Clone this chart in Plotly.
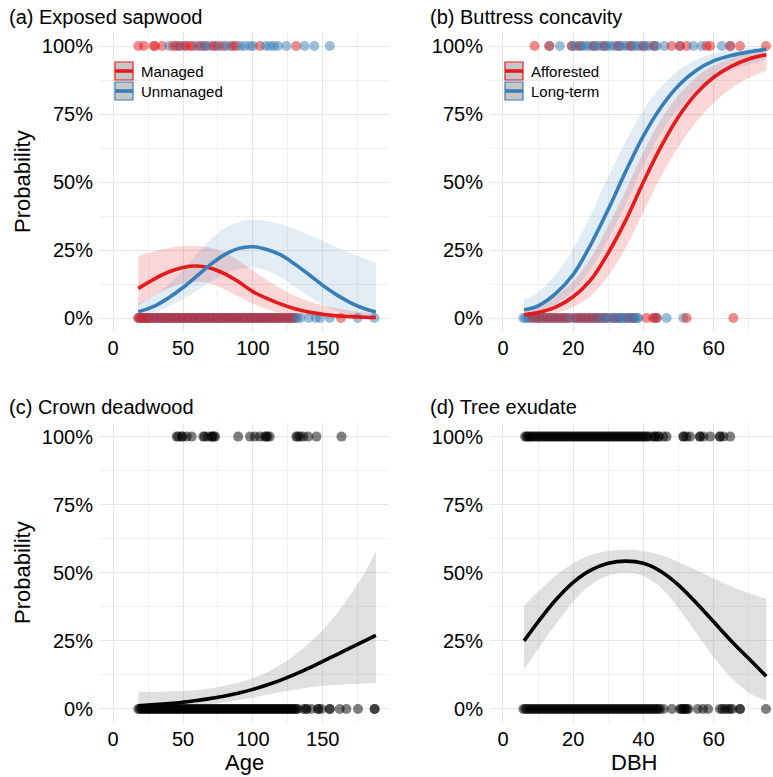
import plotly.graph_objects as go

W, H = 773, 777
RED = "#E41A1C"
BLUE = "#377EB8"
FONT = "Liberation Sans, Arial, sans-serif"

# ---------------- (a) Exposed sapwood vs Age ----------------
a_age = [18, 30, 40, 50, 60, 70, 80, 90, 100, 110, 120, 130, 140, 150, 160, 170, 180, 188]
a_man_fit = [0.109, 0.145, 0.170, 0.186, 0.191, 0.183, 0.162, 0.132, 0.097, 0.072, 0.051, 0.034, 0.022, 0.014, 0.008, 0.005, 0.003, 0.002]
a_man_hi = [0.228, 0.245, 0.257, 0.264, 0.265, 0.258, 0.240, 0.210, 0.175, 0.140, 0.108, 0.082, 0.062, 0.047, 0.035, 0.026, 0.020, 0.016]
a_man_lo = [0.045, 0.085, 0.110, 0.128, 0.133, 0.125, 0.105, 0.078, 0.052, 0.032, 0.018, 0.009, 0.004, 0.002, 0.001, 0.0005, 0.0002, 0.0001]
a_unm_fit = [0.023, 0.045, 0.075, 0.112, 0.155, 0.198, 0.234, 0.256, 0.262, 0.252, 0.232, 0.198, 0.160, 0.120, 0.085, 0.056, 0.034, 0.022]
a_unm_hi = [0.055, 0.085, 0.125, 0.175, 0.235, 0.290, 0.330, 0.353, 0.360, 0.357, 0.345, 0.327, 0.305, 0.283, 0.260, 0.238, 0.218, 0.202]
a_unm_lo = [0.009, 0.022, 0.043, 0.070, 0.100, 0.135, 0.163, 0.180, 0.185, 0.175, 0.150, 0.115, 0.080, 0.050, 0.028, 0.014, 0.007, 0.004]

a_man_yes = [18, 22, 29, 30, 35, 43, 45, 48, 52, 55, 57, 62, 66, 72, 74, 79, 86, 88, 105, 131]
a_unm_yes = [40, 47, 51, 60, 64, 67, 70, 76, 81, 84, 91, 94, 98, 100, 109, 112, 115, 118, 124, 137, 144, 155]
a_man_no = [18, 19, 20, 21, 22, 23, 24, 25, 26, 27, 29, 30, 31, 33, 34, 35, 37, 38, 39, 41, 42, 43,
            45, 46, 47, 49, 50, 51, 53, 54, 55, 57, 58, 59, 61, 62, 63, 65, 66, 67, 69, 70, 71, 73,
            74, 75, 77, 78, 79, 81, 82, 83, 85, 86, 87, 89, 90, 91, 93, 94, 95, 97, 98, 99, 101, 102,
            103, 105, 106, 108, 109, 111, 112, 114, 115, 117, 118, 120, 122, 124, 126, 128, 130, 163]
a_unm_no = [18, 20, 22, 24, 26, 28, 30, 32, 34, 36, 38, 40, 42, 44, 46, 48, 50, 52, 54, 56, 58, 60,
            62, 64, 66, 68, 70, 72, 74, 76, 78, 80, 82, 84, 86, 88, 90, 92, 94, 96, 98, 100, 102, 104,
            106, 108, 110, 112, 114, 116, 118, 120, 122, 124, 126, 128, 130, 132, 134, 140, 145, 148,
            155, 175, 187]

# ---------------- (b) Buttress concavity vs DBH ----------------
b_dbh = [6, 10, 15, 20, 25, 30, 35, 40, 45, 50, 55, 60, 65, 70, 75]
b_aff_fit = [0.012, 0.020, 0.040, 0.078, 0.140, 0.240, 0.360, 0.500, 0.630, 0.740, 0.825, 0.885, 0.925, 0.952, 0.968]
b_aff_hi = [0.032, 0.048, 0.080, 0.135, 0.220, 0.340, 0.470, 0.610, 0.730, 0.820, 0.885, 0.928, 0.955, 0.972, 0.984]
b_aff_lo = [0.004, 0.008, 0.018, 0.040, 0.082, 0.155, 0.260, 0.390, 0.520, 0.630, 0.720, 0.790, 0.845, 0.882, 0.910]
b_lt_fit = [0.030, 0.045, 0.090, 0.160, 0.270, 0.400, 0.540, 0.670, 0.775, 0.855, 0.910, 0.945, 0.965, 0.978, 0.988]
b_lt_hi = [0.068, 0.095, 0.160, 0.255, 0.380, 0.520, 0.650, 0.765, 0.850, 0.910, 0.950, 0.972, 0.985, 0.992, 0.996]
b_lt_lo = [0.012, 0.022, 0.050, 0.100, 0.180, 0.290, 0.420, 0.560, 0.680, 0.770, 0.835, 0.880, 0.910, 0.932, 0.950]

b_aff_yes = [9, 13.2, 19.6, 22, 26, 29, 33, 36.5, 40, 43, 48, 50.4, 52.3, 58, 59, 64.7, 67.5, 74.9]
b_lt_yes = [13.2, 16.2, 19.6, 20.5, 21.5, 22.5, 23.5, 24.5, 25.5, 26.5, 27.5, 28.5, 29.5, 30.5, 31.5,
            32.5, 33.5, 34.5, 35.5, 36.5, 37.5, 38.5, 39.5, 40.5, 41.5, 43, 43.8, 46, 50.4, 54.2, 56.6,
            62.3, 64.7]
b_aff_no = [8.5, 9.3, 10.1, 10.9, 11.7, 12.5, 13.3, 14.1, 14.9, 15.7, 16.5, 17.3, 18.1, 18.9, 20.5,
            21.3, 22.1, 22.9, 23.7, 24.5, 25.3, 26.1, 26.9, 27.7, 29.3, 31.7, 33.3, 35.7, 37.3, 40.9,
            42.8, 43.2, 43.8, 52.3, 65.6]
b_lt_no = [5.8, 6.4, 7.0, 7.6, 8.2, 9.4, 10.6, 11.8, 13.0, 14.2, 15.4, 16.6, 17.8, 19.0, 20.2, 21.4,
           22.6, 23.8, 25.0, 26.2, 27.4, 28.0, 28.6, 29.2, 29.8, 30.4, 31.0, 31.6, 32.2, 32.8, 33.4,
           34.0, 34.6, 35.2, 35.8, 36.4, 37.0, 37.6, 38.2, 38.5, 43.8, 46.6, 51.4]

# ---------------- (c) Crown deadwood vs Age ----------------
c_age = [18, 30, 40, 50, 60, 70, 80, 90, 100, 110, 120, 130, 140, 150, 160, 170, 180, 188]
c_fit = [0.012, 0.016, 0.020, 0.025, 0.031, 0.039, 0.048, 0.059, 0.072, 0.088, 0.106, 0.127, 0.150, 0.175, 0.200, 0.225, 0.250, 0.270]
c_hi = [0.063, 0.063, 0.064, 0.066, 0.070, 0.076, 0.085, 0.097, 0.113, 0.135, 0.163, 0.198, 0.240, 0.290, 0.350, 0.420, 0.500, 0.580]
c_lo = [0.002, 0.004, 0.006, 0.009, 0.013, 0.018, 0.025, 0.033, 0.042, 0.052, 0.062, 0.071, 0.079, 0.085, 0.089, 0.092, 0.094, 0.095]

c_yes = [45.5, 46.5, 49, 49.5, 52.6, 56.2, 64.5, 65.5, 68, 70.5, 71, 72, 73, 89.5, 98, 101.4, 105,
         108.5, 109.5, 110.5, 112, 131, 132, 133.6, 136, 139.5, 145.5, 163.4]
c_no = [18, 19, 20, 21, 22, 23, 24, 25, 26, 27, 28, 29, 30, 31, 32, 33, 34, 35, 36, 37, 38, 39, 40,
        41, 42, 43, 44, 45, 46, 47, 48, 49, 50, 51, 52, 53, 54, 55, 56, 57, 58, 59, 60, 61, 62, 63,
        64, 65, 66, 67, 68, 69, 70, 71, 72, 73, 74, 75, 76, 77, 78, 79, 80, 81, 82, 83, 84, 85, 86,
        87, 88, 89, 90, 91, 92, 93, 94, 95, 96, 97, 98, 99, 100, 101, 102, 103, 104, 105, 106, 107,
        108, 109, 110, 111, 112, 113, 114, 115, 116, 117, 118, 119, 120, 121, 122, 123, 124, 125,
        126, 127, 128, 129, 130, 131, 132, 136, 138.3, 138.3, 141.9, 146.7, 146.7, 149, 155, 155,
        162.1, 166.9, 175.2, 187.1, 187.1]

# ---------------- (d) Tree exudate vs DBH ----------------
d_dbh = [6, 10, 15, 20, 25, 30, 35, 40, 45, 50, 55, 60, 65, 70, 75]
d_fit = [0.250, 0.320, 0.400, 0.465, 0.510, 0.535, 0.543, 0.535, 0.505, 0.455, 0.390, 0.320, 0.250, 0.185, 0.120]
d_hi = [0.380, 0.430, 0.490, 0.535, 0.565, 0.580, 0.585, 0.580, 0.565, 0.540, 0.510, 0.480, 0.450, 0.425, 0.405]
d_lo = [0.145, 0.220, 0.310, 0.395, 0.455, 0.490, 0.500, 0.488, 0.445, 0.370, 0.280, 0.190, 0.115, 0.060, 0.030]

d_yes = [6.3, 6.8, 7, 7.5, 8, 8.5, 9, 9.5, 10, 10.5, 11, 11.5, 12, 12.5, 13, 13.5, 14, 14.5, 15, 15.5,
         16, 16.5, 17, 17.5, 18, 18.5, 19, 19.5, 20, 20.5, 21, 21.5, 22, 22.5, 23, 23.5, 24, 24.5, 25,
         25.5, 26, 26.5, 27, 27.5, 28, 28.5, 29, 29.5, 30, 30.5, 31, 31.5, 32, 32.5, 33, 33.5, 34,
         34.5, 35, 35.5, 36, 36.5, 37, 37.5, 38, 38.5, 39, 39.5, 40, 40.5, 41, 41.4, 42.5, 43.3, 43.3,
         44.3, 44.3, 45.7, 46.6, 51.4, 51.4, 52.3, 53.3, 56.1, 56.1, 57.1, 59, 61.8, 61.8, 62.8, 64.7]
d_no = [5.8, 6.3, 6.8, 7.3, 7.8, 8.3, 8.8, 9.3, 9.8, 10.3, 10.8, 11.3, 11.8, 12.3, 12.8, 13.3, 13.8,
        14.3, 14.8, 15.3, 15.8, 16.3, 16.8, 17.3, 17.8, 18.3, 18.8, 19.3, 19.8, 20.3, 20.8, 21.3,
        21.8, 22.3, 22.8, 23.3, 23.8, 24.3, 24.8, 25.3, 25.8, 26.3, 26.8, 27.3, 27.8, 28.3, 28.8,
        29.3, 29.8, 30.3, 30.8, 31.3, 31.8, 32.3, 32.8, 33.3, 33.8, 34.3, 34.8, 35.3, 35.8, 36.3,
        36.8, 37.3, 37.8, 38.3, 38.8, 39.3, 39.8, 40.3, 40.8, 41.3, 41.8, 42.3, 42.8, 43.3, 43.8,
        44.3, 44.7, 45.7, 48.1, 50.4, 50.8, 51.2, 51.6, 52.0, 52.4, 52.8, 55.5, 57, 58.4, 61.8, 62.5,
        63.2, 64, 64.7, 65.3, 67.5, 67.5, 74.9]

fig = go.Figure()


def ribbon(x, lo, hi, rgba, ax):
    xa, ya = ax
    fig.add_trace(go.Scatter(x=x, y=lo, mode="lines", line=dict(width=0, shape="spline"),
                             hoverinfo="skip", showlegend=False, xaxis=xa, yaxis=ya))
    fig.add_trace(go.Scatter(x=x, y=hi, mode="lines", line=dict(width=0, shape="spline"),
                             fill="tonexty", fillcolor=rgba,
                             hoverinfo="skip", showlegend=False, xaxis=xa, yaxis=ya))


def fitline(x, y, color, ax):
    xa, ya = ax
    fig.add_trace(go.Scatter(x=x, y=y, mode="lines", line=dict(width=3.6, shape="spline", color=color),
                             showlegend=False, xaxis=xa, yaxis=ya))


def dots(groups, val, ax):
    """One row of observations; groups of (x list, colour) are interleaved by x."""
    xa, ya = ax
    pts = sorted((x, col) for xs, col in groups for x in xs)
    fig.add_trace(go.Scatter(x=[p[0] for p in pts], y=[val] * len(pts), mode="markers",
                             marker=dict(size=10, color=[p[1] for p in pts], opacity=0.5, line=dict(width=0)),
                             showlegend=False, xaxis=xa, yaxis=ya))


RED_FILL = "rgba(228,26,28,0.18)"
BLUE_FILL = "rgba(55,126,184,0.15)"
GREY_FILL = "rgba(153,153,153,0.3)"

# (a)
A = ("x", "y")
ribbon(a_age, a_man_lo, a_man_hi, RED_FILL, A)
ribbon(a_age, a_unm_lo, a_unm_hi, BLUE_FILL, A)
dots([(a_man_yes, RED), (a_unm_yes, BLUE)], 1, A)
dots([(a_man_no, RED), (a_unm_no, BLUE)], 0, A)
fitline(a_age, a_man_fit, RED, A)
fitline(a_age, a_unm_fit, BLUE, A)

# (b)
B = ("x2", "y2")
ribbon(b_dbh, b_aff_lo, b_aff_hi, RED_FILL, B)
ribbon(b_dbh, b_lt_lo, b_lt_hi, BLUE_FILL, B)
dots([(b_aff_yes, RED), (b_lt_yes, BLUE)], 1, B)
dots([(b_aff_no, RED), (b_lt_no, BLUE)], 0, B)
fitline(b_dbh, b_aff_fit, RED, B)
fitline(b_dbh, b_lt_fit, BLUE, B)

# (c)
C = ("x3", "y3")
ribbon(c_age, c_lo, c_hi, GREY_FILL, C)
dots([(c_yes, "black")], 1, C)
dots([(c_no, "black")], 0, C)
fitline(c_age, c_fit, "black", C)

# (d)
D = ("x4", "y4")
ribbon(d_dbh, d_lo, d_hi, GREY_FILL, D)
dots([(d_yes, "black")], 1, D)
dots([(d_no, "black")], 0, D)
fitline(d_dbh, d_fit, "black", D)

# ---------------- axes ----------------
GRID = "#E5E5E5"
MINOR = "#F0F0F0"
TICKF = dict(family=FONT, size=20, color="black")


def px_x(p):
    return p / W


def px_y(p):
    return 1 - p / H


left_dom = [px_x(100), px_x(389)]
right_dom = [px_x(490), 1.0]
top_dom = [px_y(331.6), px_y(32.4)]
bot_dom = [px_y(722.6), px_y(423)]

yax = dict(range=[-0.05, 1.05], tickvals=[0, 0.25, 0.5, 0.75, 1],
           ticktext=["0%", "25%", "50%", "75%", "100%"], showgrid=True, gridcolor=GRID, gridwidth=1.1,
           zeroline=False, showline=False, ticks="", tickfont=TICKF, ticklabelstandoff=6,
           minor=dict(tickvals=[0.125, 0.375, 0.625, 0.875], showgrid=True, gridcolor=MINOR, gridwidth=0.8))
xage = dict(range=[-9.4, 197.4], tickvals=[0, 50, 100, 150], showgrid=True, gridcolor=GRID, gridwidth=1.1,
            zeroline=False, showline=False, ticks="", tickfont=TICKF, ticklabelstandoff=2,
            minor=dict(tickvals=[25, 75, 125, 175], showgrid=True, gridcolor=MINOR, gridwidth=0.8))
xdbh = dict(range=[-3.7, 76.9], tickvals=[0, 20, 40, 60], showgrid=True, gridcolor=GRID, gridwidth=1.1,
            zeroline=False, showline=False, ticks="", tickfont=TICKF, ticklabelstandoff=2,
            minor=dict(tickvals=[10, 30, 50, 70], showgrid=True, gridcolor=MINOR, gridwidth=0.8))

fig.update_layout(
    width=W, height=H, margin=dict(l=0, r=0, t=0, b=0),
    paper_bgcolor="white", plot_bgcolor="white", showlegend=False,
    xaxis=dict(xage, domain=left_dom, anchor="y"),
    yaxis=dict(yax, domain=top_dom, anchor="x"),
    xaxis2=dict(xdbh, domain=right_dom, anchor="y2"),
    yaxis2=dict(yax, domain=top_dom, anchor="x2"),
    xaxis3=dict(xage, domain=left_dom, anchor="y3"),
    yaxis3=dict(yax, domain=bot_dom, anchor="x3"),
    xaxis4=dict(xdbh, domain=right_dom, anchor="y4"),
    yaxis4=dict(yax, domain=bot_dom, anchor="x4"),
)

# ---------------- text ----------------
anns = []


def text(s, x, y, size, xanchor="left", angle=0):
    anns.append(dict(text=s, x=px_x(x), y=px_y(y), xref="paper", yref="paper", showarrow=False,
                     xanchor=xanchor, yanchor="middle", textangle=angle,
                     font=dict(family=FONT, size=size, color="black")))


text("(a) Exposed sapwood", 7, 17, 20)
text("(b) Buttress concavity", 428, 17, 20)
text("(c) Crown deadwood", 7, 407, 20)
text("(d) Tree exudate", 428, 407, 20)
text("Probability", 22, 182, 22, "center", -90)
text("Probability", 22, 573, 22, "center", -90)
text("Age", 244.5, 762, 22, "center")
text("DBH", 634, 762, 22, "center")

# legends drawn inside panels (a) and (b)
shapes = []
legend_sets = [(115, [("Managed", RED, 71), ("Unmanaged", BLUE, 91)]),
               (505, [("Afforested", RED, 71), ("Long-term", BLUE, 91)])]
for x0, items in legend_sets:
    for label, col, yc in items:
        shapes.append(dict(type="rect", xref="paper", yref="paper",
                           x0=px_x(x0), x1=px_x(x0 + 18), y0=px_y(yc - 9), y1=px_y(yc + 9),
                           fillcolor="#C6C6C6", line=dict(color=col, width=1.2), layer="above"))
        shapes.append(dict(type="line", xref="paper", yref="paper",
                           x0=px_x(x0), x1=px_x(x0 + 18), y0=px_y(yc), y1=px_y(yc),
                           line=dict(color=col, width=3.6), layer="above"))
        text(label, x0 + 24, yc, 15)

fig.update_layout(annotations=anns, shapes=shapes)
fig.write_html("out.html")
